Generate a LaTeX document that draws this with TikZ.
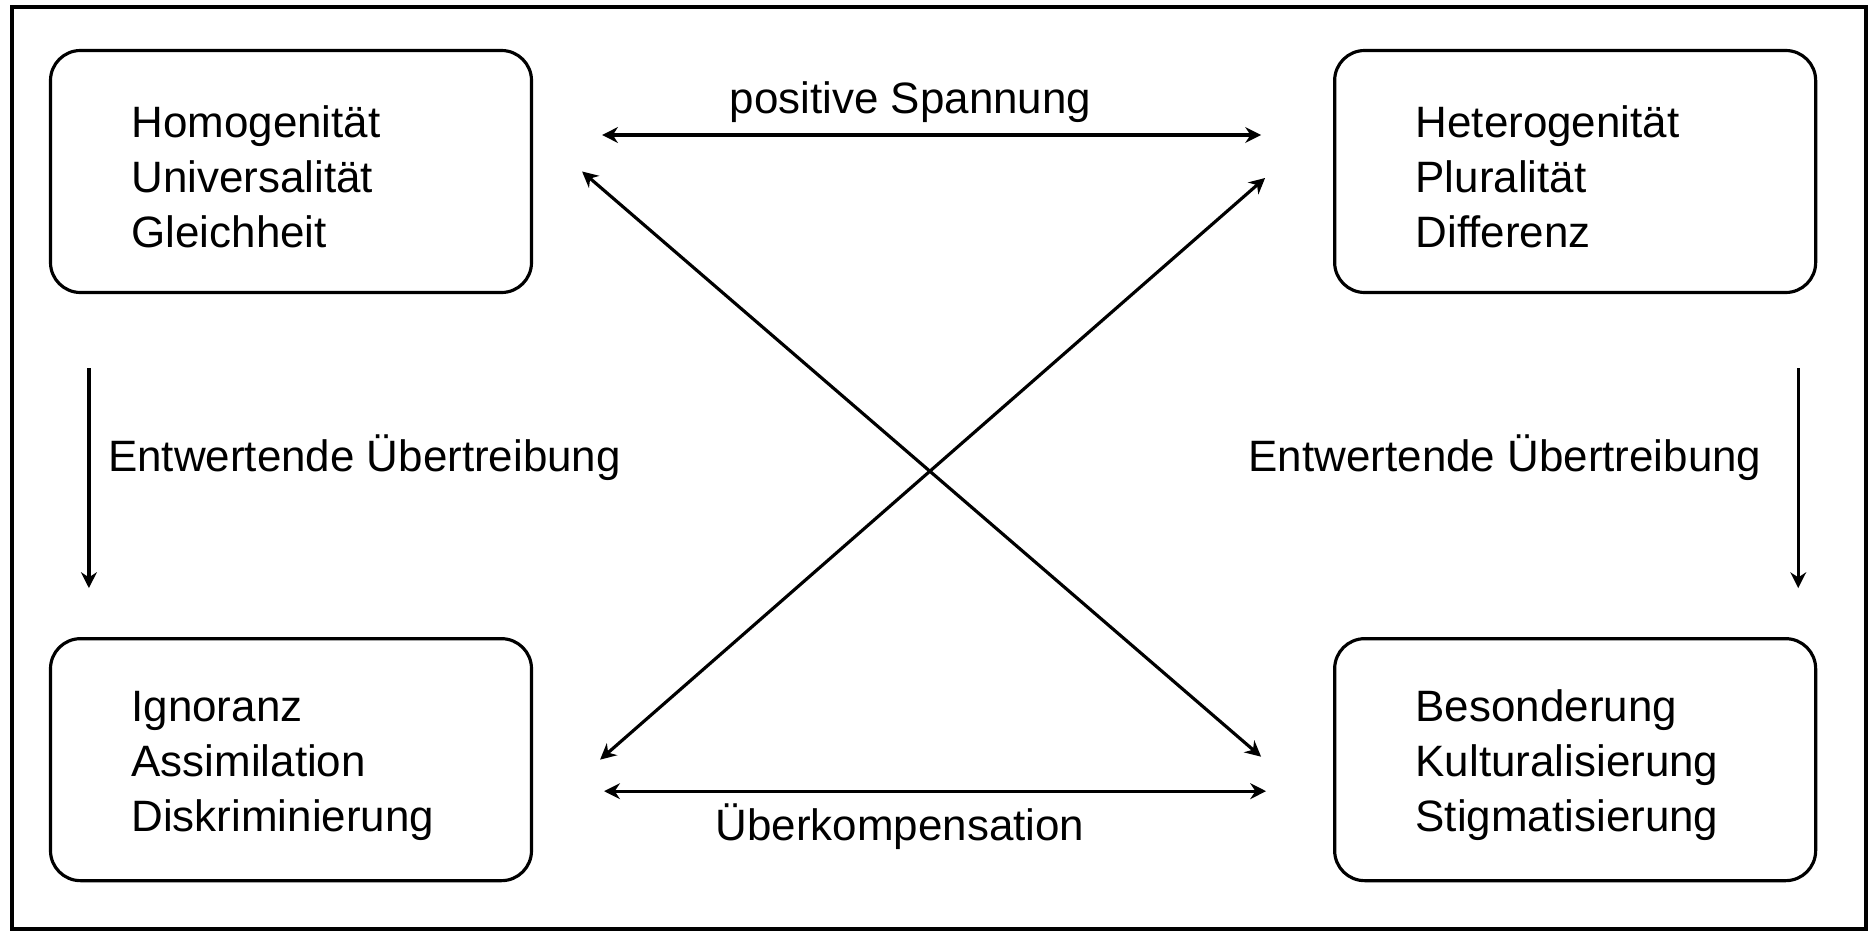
\documentclass[tikz,border=0pt]{standalone}
\usepackage{fontspec}
\setmainfont{Liberation Sans}
\usetikzlibrary{positioning, arrows.meta}

\begin{document}
\begin{tikzpicture}[
    node distance=3.43cm and 8cm,
    font=\fontsize{12.5}{15.6}\selectfont,
    box/.style={draw, line width=0.9pt, rounded corners=0.3cm, minimum width=4.8cm, minimum height=2.42cm,
        text width=3.19cm, inner xsep=0.81cm, align=left, text height=1.2em},
    arrow/.style={-{Stealth[length=4.5pt, width=4.5pt]}, line width=0.9pt},
    both/.style={{Stealth[length=4.5pt, width=4.5pt]}-{Stealth[length=4.5pt, width=4.5pt]}, line width=0.9pt},
    lbl/.style={inner sep=3pt}
]

    % Moldura
    \useasboundingbox (0,0) rectangle (18.70,-9.32);
    \draw[line width=1.1pt] (0.12,-0.07) rectangle (18.66,-9.29);

    % Caixas
    \node[box] (homo) at (2.91,-1.715) {Homogenität\\Universalität\\Gleichheit};
    \node[box] (hetero) [right=of homo] {Heterogenität\\Pluralität\\Differenz};
    \node[box] (ignor) [below=of homo] {Ignoranz\\Assimilation\\Diskriminierung};
    \node[box] (beson) [below=of hetero] {Besonderung\\Kulturalisierung\\Stigmatisierung};

    % Setas horizontais
    \draw[both] ([xshift=0.69cm, yshift=0.365cm]homo.east) -- ([xshift=-0.72cm, yshift=0.365cm]hetero.west)
        node[lbl, midway, above, xshift=-0.21cm] {positive Spannung};
    \draw[both] ([xshift=0.71cm, yshift=-0.315cm]ignor.east) -- ([xshift=-0.67cm, yshift=-0.315cm]beson.west)
        node[lbl, midway, below, xshift=-0.35cm] {Überkompensation};

    % Setas cruzadas
    \draw[both] ([xshift=0.49cm]homo.east) -- ([xshift=-0.72cm, yshift=0.03cm]beson.west);
    \draw[both] ([xshift=0.67cm]ignor.east) -- ([xshift=-0.68cm, yshift=-0.065cm]hetero.west);

    % Setas verticais
    \draw[arrow] ([xshift=0.40cm, yshift=-0.74cm]homo.south west) -- ([xshift=0.40cm, yshift=0.49cm]ignor.north west)
        node[lbl, midway, right=2pt, yshift=0.2cm] {Entwertende Übertreibung};
    \draw[arrow] ([xshift=-0.19cm, yshift=-0.74cm]hetero.south east) -- ([xshift=-0.19cm, yshift=0.49cm]beson.north east)
        node[lbl, midway, left=7pt, yshift=0.2cm] {Entwertende Übertreibung};

\end{tikzpicture}
\end{document}
